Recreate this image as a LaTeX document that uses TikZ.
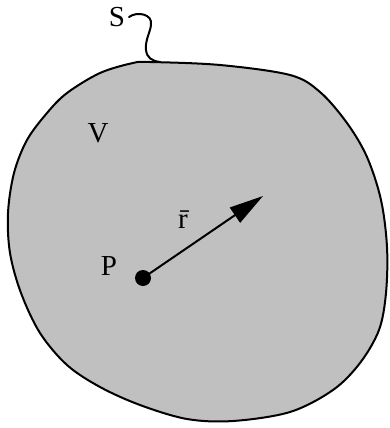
\documentclass[tikz,border=0pt]{standalone}
\usepackage{fontspec}
\setmainfont{Liberation Serif}
\usetikzlibrary{arrows.meta}
\begin{document}
\begin{tikzpicture}[x=1pt,y=-1pt,
  lbl/.style={inner sep=0pt,anchor=base,font=\fontsize{29}{30}\selectfont},
  outline/.style={line width=2pt,line join=round}]
\useasboundingbox (0,0) rectangle (389,428);
\draw[outline,fill={rgb,255:red,192;green,192;blue,192}] plot[smooth cycle,tension=0.55] coordinates {
 (150,62) (220,65) (290,75) (320,92) (347,123) (367,157) (381,200) (387,247)
 (386,293) (379,330) (360,363) (333,390) (290,412) (233,421) (187,419)
 (140,405) (100,387) (67,365) (40,333) (21,293) (10,253) (8,213) (14,173)
 (27,140) (47,113) (67,93) (100,73) (133,63)};
\node[lbl] (S) at (117,27) {S};
\coordinate (sb) at (160,62);
\draw[line width=2pt,line cap=round] (129,17) .. controls (137,11) and (153,14) .. (151,25)
  .. controls (150,33) and (145,40) .. (146,50) .. controls (147,58) and (152,61) .. (sb);
\node[lbl] (V) at (98,142) {V};
\node[lbl] (P) at (109,275) {P};
\node[lbl] (r) at (183,228) {\=r};
\node[circle,fill=black,inner sep=0pt,minimum size=16pt] (p) at (143,278) {};
\coordinate (tip) at (263,196);
\draw[line width=2pt,-{Triangle[length=34pt,width=18pt]}] (p.center) -- (tip);
\end{tikzpicture}
\end{document}
